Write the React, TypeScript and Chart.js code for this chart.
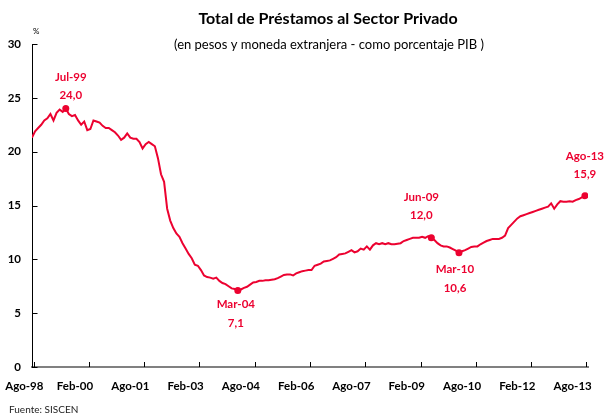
import React, { useEffect, useRef } from "react";
import { Chart, registerables } from "chart.js";

Chart.register(...registerables);

const MONTHS = ["Ene", "Feb", "Mar", "Abr", "May", "Jun", "Jul", "Ago", "Sep", "Oct", "Nov", "Dic"];
const START_YEAR = 1998;
const START_MONTH = 7; // Ago

// Total de préstamos al sector privado, % del PIB, mensual Ago-98 .. Ago-13
const values: number[] = [
  21.3, 21.9, 22.2, 22.5, 22.9, 23.1, 23.5, 22.9, 23.6, 23.9, 23.7, 24.0,
  23.5, 23.3, 23.4, 22.9, 22.5, 22.8, 22.0, 22.1, 22.9, 22.8, 22.7, 22.4,
  22.2, 22.2, 22.0, 21.8, 21.5, 21.1, 21.3, 21.7, 21.3, 21.2, 21.2, 20.9,
  20.3, 20.7, 20.9, 20.7, 20.5, 19.4, 17.9, 17.2, 14.7, 13.6, 12.9, 12.4,
  12.1, 11.5, 11.0, 10.5, 10.1, 9.5, 9.4, 9.0, 8.5, 8.35, 8.3, 8.2,
  8.3, 8.0, 7.8, 7.7, 7.5, 7.3, 7.25, 7.1, 7.2, 7.35, 7.45, 7.65,
  7.85, 7.9, 8.0, 8.0, 8.05, 8.05, 8.1, 8.15, 8.25, 8.4, 8.55, 8.6,
  8.6, 8.5, 8.7, 8.8, 8.9, 8.95, 9.0, 9.0, 9.4, 9.5, 9.6, 9.8,
  9.85, 9.9, 10.05, 10.2, 10.45, 10.5, 10.55, 10.7, 10.85, 10.65, 10.75, 11.0,
  10.9, 11.2, 10.9, 11.3, 11.5, 11.4, 11.5, 11.4, 11.5, 11.4, 11.4, 11.45,
  11.5, 11.7, 11.8, 11.9, 12.0, 12.0, 12.0, 12.1, 12.0, 12.15, 12.0, 11.8,
  11.5, 11.3, 11.2, 11.2, 11.1, 10.95, 10.8, 10.6, 10.75, 10.85, 11.0, 11.15,
  11.2, 11.2, 11.4, 11.55, 11.7, 11.8, 11.9, 11.9, 11.9, 12.0, 12.2, 12.9,
  13.2, 13.5, 13.8, 14.0, 14.1, 14.2, 14.3, 14.4, 14.5, 14.6, 14.7, 14.8,
  14.9, 15.2, 14.7, 15.1, 15.4, 15.35, 15.35, 15.4, 15.35, 15.5, 15.6, 15.75,
  15.9,
];

const categories: string[] = values.map((_, i) => {
  const mi = START_MONTH + i;
  const y = START_YEAR + Math.floor(mi / 12);
  return MONTHS[mi % 12] + "-" + String(y % 100).padStart(2, "0");
});

const xTickLabels = ["Ago-98", "Feb-00", "Ago-01", "Feb-03", "Ago-04", "Feb-06", "Ago-07", "Feb-09", "Ago-10", "Feb-12", "Ago-13"];
const xTickStep = 18;
const yTicks = [0, 5, 10, 15, 20, 25, 30];

const highlightIdx = [11, 67, 130, 139, 180];
// placement style for the highlight labels
const highlightStyle: Record<number, { above: boolean; gap: number; dx: number }> = {
  11: { above: true, gap: 13, dx: 5 },
  67: { above: false, gap: 14, dx: -2 },
  130: { above: true, gap: 23, dx: -10 },
  139: { above: false, gap: 16, dx: -4 },
  180: { above: true, gap: 22, dx: 0 },
};

const RED = "#ec0230";
const FONT = "Lato, 'Noto Sans', sans-serif";

const decorPlugin = {
  id: "decor",
  afterDraw(chart: any) {
    const { ctx, scales } = chart;
    const xs = scales.x;
    const ys = scales.y;
    ctx.save();

    // title & subtitle
    ctx.fillStyle = "#000";
    ctx.textAlign = "center";
    ctx.textBaseline = "middle";
    ctx.font = `bold 16px ${FONT}`;
    ctx.fillText("Total de Préstamos al Sector Privado", 328, 19);
    ctx.font = `13px ${FONT}`;
    ctx.fillText("(en pesos y moneda extranjera - como porcentaje PIB )", 329, 45);

    // unit
    ctx.font = `8px ${FONT}`;
    ctx.textAlign = "left";
    ctx.fillText("%", 33, 31);

    // source
    ctx.font = `10px ${FONT}`;
    ctx.textBaseline = "top";
    ctx.fillStyle = "#222";
    ctx.fillText("Fuente: SISCEN", 9, 405);

    // y inward ticks
    ctx.strokeStyle = "#000";
    ctx.lineWidth = 1;
    const ax = Math.round(xs.left) + 0.5;
    yTicks.forEach((v) => {
      const y = Math.round(ys.getPixelForValue(v)) + 0.5;
      ctx.beginPath();
      ctx.moveTo(ax, y);
      ctx.lineTo(ax + 5, y);
      ctx.stroke();
    });

    // x inward ticks & labels
    ctx.font = `bold 11.5px ${FONT}`;
    ctx.fillStyle = "#000";
    ctx.textAlign = "center";
    ctx.textBaseline = "middle";
    xTickLabels.forEach((lab, k) => {
      const m = k * xTickStep;
      const x = Math.round(xs.getPixelForValue(m + 0.5)) + 0.5;
      ctx.beginPath();
      ctx.moveTo(x, ys.bottom);
      ctx.lineTo(x, ys.bottom - 5);
      ctx.stroke();
      const lm = Math.min(Math.max(m - 4, -2.5), values.length - 1);
      ctx.fillText(lab, xs.getPixelForValue(lm), 386);
    });

    // highlight annotations
    const meta = chart.getDatasetMeta(0);
    ctx.fillStyle = RED;
    ctx.font = `bold 11.5px ${FONT}`;
    highlightIdx.forEach((i) => {
      const pt = meta.data[i];
      const st = highlightStyle[i];
      const x = pt.x + st.dx;
      const valTxt = values[i].toFixed(1).replace(".", ",");
      if (st.above) {
        ctx.fillText(valTxt, x, pt.y - st.gap);
        ctx.fillText(categories[i], x, pt.y - st.gap - 18);
      } else {
        ctx.fillText(categories[i], x, pt.y + st.gap);
        ctx.fillText(valTxt, x, pt.y + st.gap + 19);
      }
    });

    ctx.restore();
  },
};

export default function App() {
  const ref = useRef<HTMLCanvasElement | null>(null);

  useEffect(() => {
    document.body.style.margin = "0";
    const canvas = ref.current;
    if (!canvas) return;
    const chart = new Chart(canvas, {
      type: "line",
      data: {
        datasets: [
          {
            data: values.map((v, i) => ({ x: i, y: v })),
            borderColor: RED,
            backgroundColor: RED,
            borderWidth: 2,
            tension: 0,
            fill: false,
            pointRadius: (c: any) => (highlightIdx.includes(c.dataIndex) ? 3.5 : 0),
            pointHoverRadius: 0,
            pointBorderWidth: 0,
          },
        ],
      },
      options: {
        animation: false,
        responsive: true,
        maintainAspectRatio: false,
        events: [],
        layout: { padding: { left: 8, right: 16, top: 44, bottom: 47 } },
        plugins: {
          legend: { display: false },
          title: { display: false },
          tooltip: { enabled: false },
        },
        scales: {
          x: {
            type: "linear",
            min: 0,
            max: 181,
            grid: { display: false, drawTicks: false },
            border: { display: true, color: "#808080", width: 2 },
            ticks: { display: false },
            afterFit: (s: any) => {
              s.height = 0;
            },
          },
          y: {
            min: 0,
            max: 30,
            grid: { display: false, drawTicks: false },
            border: { display: true, color: "#000", width: 1 },
            ticks: {
              stepSize: 5,
              padding: 11,
              color: "#000",
              font: { family: FONT, size: 11.5, weight: "bold" },
            },
            afterFit: (s: any) => {
              s.width = 24;
            },
          },
        },
      },
      plugins: [decorPlugin],
    });
    return () => chart.destroy();
  }, []);

  return (
    <div style={{ position: "relative", width: 604, height: 414 }}>
      <canvas ref={ref} />
    </div>
  );
}
